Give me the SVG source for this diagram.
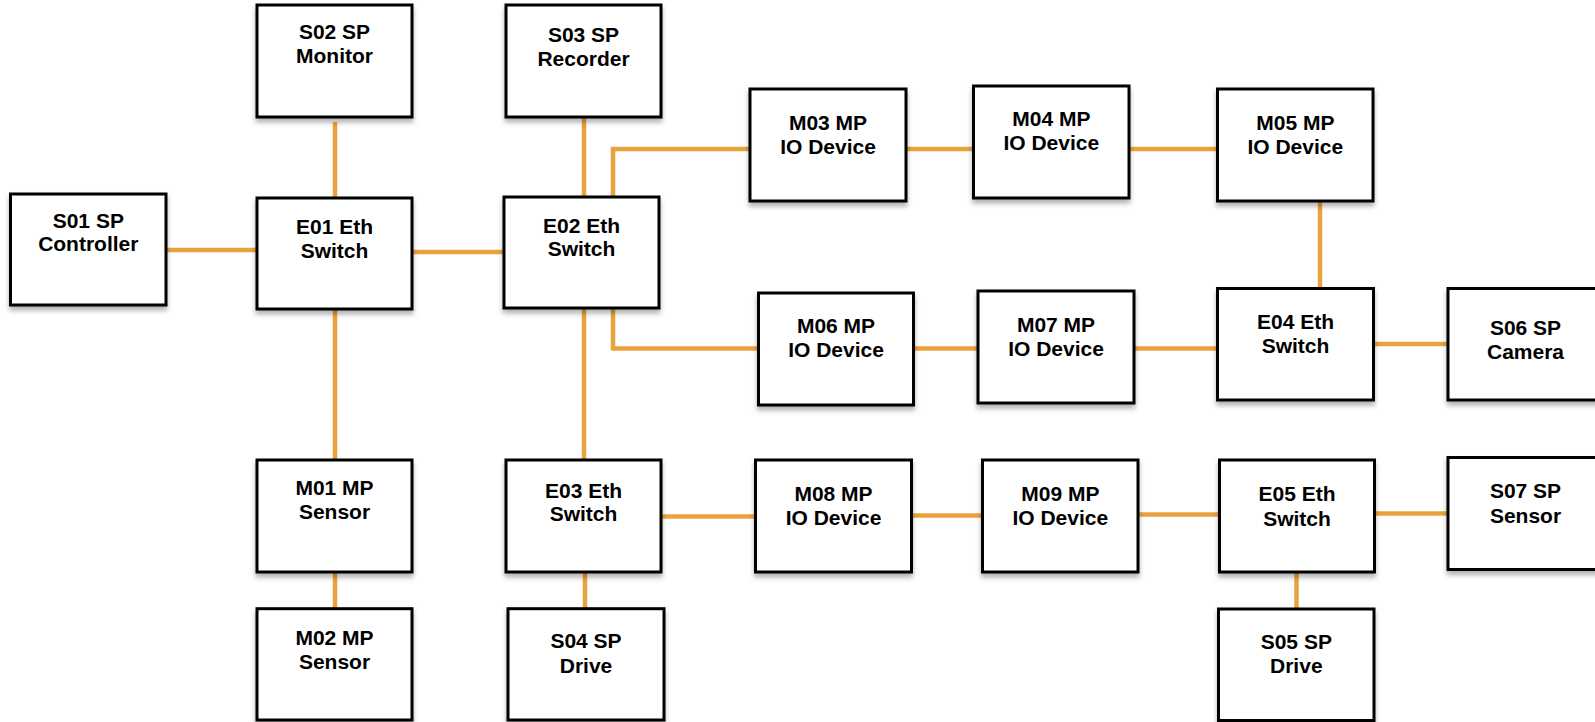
<svg xmlns="http://www.w3.org/2000/svg" width="1595" height="722" viewBox="0 0 1595 722">
<style>
.box{fill:#fff;stroke:#000;stroke-width:3;filter:url(#sh)}
.lbl{font-family:"Liberation Sans",Arial,sans-serif;font-weight:bold;font-size:21px;fill:#000;text-anchor:middle}
.c{fill:none;stroke:#E8A33C;stroke-width:4.5}
</style>
<defs>
<filter id="sh" x="-10%" y="-10%" width="120%" height="130%">
<feDropShadow dx="0" dy="4" stdDeviation="2.5" flood-color="#000" flood-opacity="0.3"/>
</filter>
</defs>
<rect width="1595" height="722" fill="#fff"/>
<g id="connectors">
<path class="c" d="M166,250H257"/>
<path class="c" d="M412,252H504"/>
<path class="c" d="M335,122V198"/>
<path class="c" d="M584,117V197"/>
<path class="c" d="M613,197V149H750"/>
<path class="c" d="M906,149H973.5"/>
<path class="c" d="M1129,149H1217.5"/>
<path class="c" d="M1320,201V288.5"/>
<path class="c" d="M613,308V348.5H758.5"/>
<path class="c" d="M913.5,348.5H978"/>
<path class="c" d="M1134,348.5H1217.5"/>
<path class="c" d="M1373.5,344H1448"/>
<path class="c" d="M335,309V460"/>
<path class="c" d="M335,572V612"/>
<path class="c" d="M584,308V460"/>
<path class="c" d="M585,572V608.7"/>
<path class="c" d="M661,516.5H755.5"/>
<path class="c" d="M911.5,515.5H982.5"/>
<path class="c" d="M1138,514.5H1219.5"/>
<path class="c" d="M1374.5,513.5H1448"/>
<path class="c" d="M1296.5,572V609"/>
</g>
<g id="S01"><rect class="box" x="10.5" y="194" width="155.5" height="111"/><text class="lbl" x="88.3" y="227.5">S01 SP</text><text class="lbl" x="88.3" y="251">Controller</text></g>
<g id="S02"><rect class="box" x="257" y="5" width="155" height="112"/><text class="lbl" x="334.5" y="39">S02 SP</text><text class="lbl" x="334.5" y="62.5">Monitor</text></g>
<g id="S03"><rect class="box" x="506" y="5" width="155" height="112"/><text class="lbl" x="583.5" y="42">S03 SP</text><text class="lbl" x="583.5" y="66">Recorder</text></g>
<g id="E01"><rect class="box" x="257" y="198" width="155" height="111"/><text class="lbl" x="334.5" y="234">E01 Eth</text><text class="lbl" x="334.5" y="258">Switch</text></g>
<g id="E02"><rect class="box" x="504" y="197" width="155" height="111"/><text class="lbl" x="581.5" y="232.5">E02 Eth</text><text class="lbl" x="581.5" y="256">Switch</text></g>
<g id="M03"><rect class="box" x="750" y="89" width="156" height="112"/><text class="lbl" x="828" y="130">M03 MP</text><text class="lbl" x="828" y="154">IO Device</text></g>
<g id="M04"><rect class="box" x="973.5" y="86" width="155.5" height="112"/><text class="lbl" x="1051.3" y="126">M04 MP</text><text class="lbl" x="1051.3" y="150">IO Device</text></g>
<g id="M05"><rect class="box" x="1217.5" y="89" width="155.5" height="112"/><text class="lbl" x="1295.3" y="130">M05 MP</text><text class="lbl" x="1295.3" y="154">IO Device</text></g>
<g id="M06"><rect class="box" x="758.5" y="293" width="155" height="112"/><text class="lbl" x="836" y="333">M06 MP</text><text class="lbl" x="836" y="357">IO Device</text></g>
<g id="M07"><rect class="box" x="978" y="291" width="156" height="112"/><text class="lbl" x="1056" y="332">M07 MP</text><text class="lbl" x="1056" y="356">IO Device</text></g>
<g id="E04"><rect class="box" x="1217.5" y="288.5" width="156" height="111.5"/><text class="lbl" x="1295.5" y="329">E04 Eth</text><text class="lbl" x="1295.5" y="353">Switch</text></g>
<g id="S06"><rect class="box" x="1448" y="288.5" width="155" height="111.5"/><text class="lbl" x="1525.5" y="335">S06 SP</text><text class="lbl" x="1525.5" y="359">Camera</text></g>
<g id="M01"><rect class="box" x="257" y="460" width="155" height="112"/><text class="lbl" x="334.5" y="495">M01 MP</text><text class="lbl" x="334.5" y="518.5">Sensor</text></g>
<g id="M02"><rect class="box" x="257" y="608.7" width="155" height="111.3"/><text class="lbl" x="334.5" y="645">M02 MP</text><text class="lbl" x="334.5" y="669">Sensor</text></g>
<g id="E03"><rect class="box" x="506" y="460" width="155" height="112"/><text class="lbl" x="583.5" y="497.5">E03 Eth</text><text class="lbl" x="583.5" y="521">Switch</text></g>
<g id="S04"><rect class="box" x="508" y="608.7" width="156" height="111.3"/><text class="lbl" x="586" y="648">S04 SP</text><text class="lbl" x="586" y="672.5">Drive</text></g>
<g id="M08"><rect class="box" x="755.5" y="460" width="156" height="112"/><text class="lbl" x="833.5" y="501">M08 MP</text><text class="lbl" x="833.5" y="525">IO Device</text></g>
<g id="M09"><rect class="box" x="982.5" y="460" width="155.5" height="112"/><text class="lbl" x="1060.3" y="501">M09 MP</text><text class="lbl" x="1060.3" y="525">IO Device</text></g>
<g id="E05"><rect class="box" x="1219.5" y="460" width="155" height="112"/><text class="lbl" x="1297" y="501">E05 Eth</text><text class="lbl" x="1297" y="525.5">Switch</text></g>
<g id="S07"><rect class="box" x="1448" y="457.5" width="155" height="112"/><text class="lbl" x="1525.5" y="498">S07 SP</text><text class="lbl" x="1525.5" y="522.5">Sensor</text></g>
<g id="S05"><rect class="box" x="1218.5" y="609" width="155.5" height="111.5"/><text class="lbl" x="1296.3" y="649">S05 SP</text><text class="lbl" x="1296.3" y="673">Drive</text></g>
</svg>
